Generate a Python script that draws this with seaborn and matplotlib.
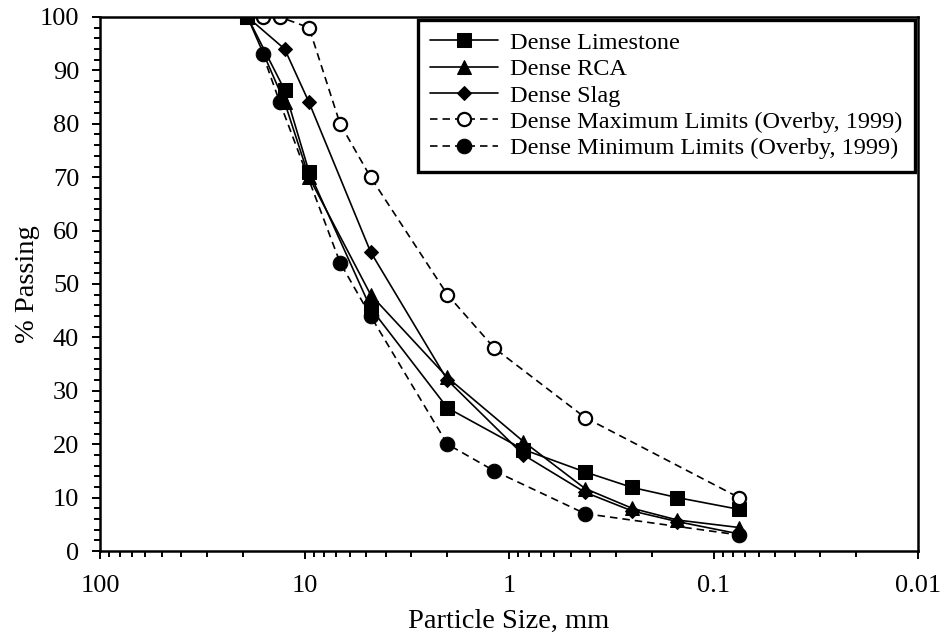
import numpy as np
import matplotlib
matplotlib.use("Agg")
import matplotlib.pyplot as plt
from matplotlib.ticker import MultipleLocator, LogLocator, FixedLocator, FixedFormatter, NullFormatter
import seaborn as sns

# ── Data: sieve sizes (mm) and % passing ─────────────────
sizes = [19, 12.5, 9.5, 4.75, 2.0, 0.85, 0.425, 0.25, 0.15, 0.075]
limestone = [100, 86.3, 71, 45.5, 26.8, 19, 14.8, 11.9, 10.0, 7.8]
rca = [100, 84, 70, 48, 32.5, 20.5, 11.7, 8.0, 5.8, 4.4]
slag = [100, 94, 84, 56, 32, 18, 11, 7.5, 5.5, 3.2]

limit_sizes = [16, 13.2, 9.5, 6.7, 4.75, 2.0, 1.18, 0.425, 0.075]
max_limits = [100, 100, 98, 80, 70, 48, 38, 25, 10]
min_size = [16, 13.2, 6.7, 4.75, 2.0, 1.18, 0.425, 0.075]
min_limits = [93, 84, 54, 44, 20, 15, 7, 3]

x_ticks = [100, 10, 1, 0.1, 0.01]
x_labels = ["100", "10", "1", "0.1", "0.01"]

# ── Plot ─────────────────────────────────────────────────
sns.set_theme(style="white")
plt.rcParams["font.family"] = ["Liberation Serif", "DejaVu Serif"]

fig = plt.figure(figsize=(9.42, 6.33), dpi=100)
ax = fig.add_axes([100 / 942, 1 - 551 / 633, 818 / 942, 534 / 633])

common = dict(color="black", lw=1.2, ax=ax, sort=False)
dash = (0, (4.5, 3))
sns.lineplot(x=sizes, y=limestone, marker="s", markersize=10.5, mec="black",
             label="Dense Limestone", **common)
sns.lineplot(x=sizes, y=rca, marker="^", markersize=10.5, mec="black",
             label="Dense RCA", **common)
sns.lineplot(x=sizes, y=slag, marker="D", markersize=7, mec="black",
             label="Dense Slag", **common)
sns.lineplot(x=limit_sizes, y=max_limits, marker="o", markersize=9.5, mfc="white",
             mec="black", mew=1.6, linestyle=dash,
             label="Dense Maximum Limits (Overby, 1999)", **common)
sns.lineplot(x=min_size, y=min_limits, marker="o", markersize=10.5, mec="black",
             linestyle=dash,
             label="Dense Minimum Limits (Overby, 1999)", **common)

ax.set_xscale("log")
ax.set_xlim(100, 0.01)
ax.set_ylim(0, 100)

ax.xaxis.set_major_locator(FixedLocator(x_ticks))
ax.xaxis.set_major_formatter(FixedFormatter(x_labels))
ax.xaxis.set_minor_locator(LogLocator(base=10, subs=np.arange(2, 10)))
ax.xaxis.set_minor_formatter(NullFormatter())
ax.yaxis.set_major_locator(MultipleLocator(10))
ax.yaxis.set_minor_locator(MultipleLocator(2))

ax.tick_params(axis="both", which="both", direction="out", bottom=True, left=True,
               top=False, right=False, colors="black", labelsize=19, width=1.4)
ax.tick_params(axis="both", which="major", length=6)
ax.tick_params(axis="both", which="minor", length=4)
ax.tick_params(axis="x", which="major", pad=11)
ax.tick_params(axis="y", which="major", pad=9)

for s in ax.spines.values():
    s.set_visible(True)
    s.set_color("black")
    s.set_linewidth(1.8)

ax.set_xlabel("Particle Size, mm", fontsize=20.5, color="black", labelpad=9)
ax.set_ylabel("% Passing", fontsize=20.5, color="black", labelpad=0)

leg = ax.legend(loc="upper right", bbox_to_anchor=(0.9963, 0.995), borderaxespad=0,
                fontsize=17.5, frameon=True, fancybox=False, framealpha=1,
                edgecolor="black", handlelength=2.8, labelspacing=0.18,
                borderpad=0.5, handletextpad=0.5)
leg.get_frame().set_linewidth(2.4)
for t in leg.get_texts():
    t.set_color("black")

ax.grid(False)
fig.savefig("out.png", dpi=100)
